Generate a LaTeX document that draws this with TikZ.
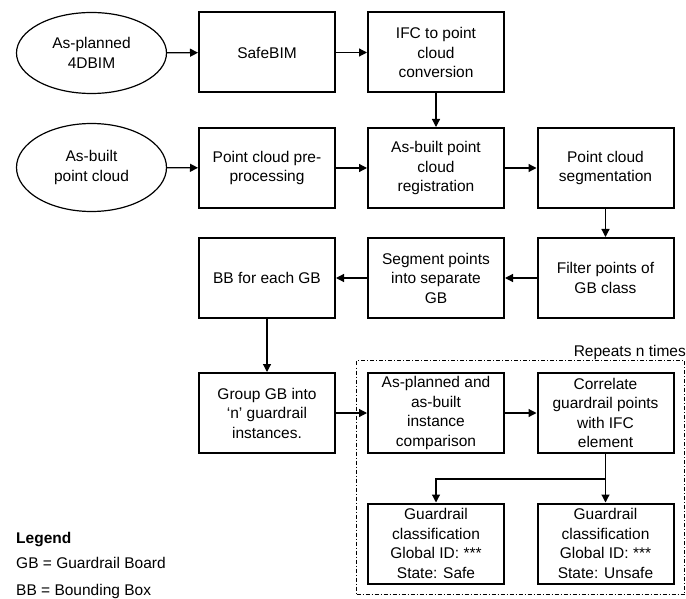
\documentclass[tikz,border=0pt]{standalone}
\usepackage{fontspec}
\setmainfont{Liberation Sans}
\usetikzlibrary{arrows.meta,shapes.geometric}
\begin{document}
\begin{tikzpicture}[x=1pt,y=-1pt,
  txt/.style={font=\fontsize{15.5pt}{19.5pt}\selectfont, align=center},
  stepbox/.style={txt, draw, line width=2pt, rectangle, minimum width=136pt, minimum height=80pt, inner sep=2pt},
  inbox/.style={txt, draw, line width=1.2pt, ellipse, minimum width=150pt, inner sep=0pt},
  arr/.style={line width=1.2pt, -{Triangle[length=8pt,width=8pt]}},
  repbox/.style={draw, line width=1pt, dash pattern=on 4pt off 2pt on 1pt off 2pt, minimum width=328pt, minimum height=234pt, inner sep=0pt},
  legtxt/.style={font=\fontsize{15.5pt}{19.5pt}\selectfont, anchor=base west, inner sep=0pt}
]
\useasboundingbox (0,0) rectangle (686,599);

% inputs
\node[inbox, minimum height=81pt] (plan) at (91.5,53) {As-planned\\4DBIM};
\node[inbox, minimum height=88pt] (built) at (91.5,167.5) {As-built\\point cloud};

% row 1
\node[stepbox] (safe) at (267,52.5) {SafeBIM};
\node[stepbox] (ifc) at (436,52.5) {IFC to point\\cloud\\conversion};

% row 2
\node[stepbox] (pre) at (267,168) {Point cloud pre-\\processing};
\node[stepbox] (reg) at (436,168) {As-built point\\cloud\\registration};
\node[stepbox] (seg) at (605.5,168) {Point cloud\\segmentation};

% row 3
\node[stepbox] (bb) at (267,278) {BB for each GB};
\node[stepbox] (sep) at (436,278) {Segment points\\into separate\\GB};
\node[stepbox] (filt) at (605.5,278) {Filter points of\\GB class};

% repeat region
\node[repbox] (rep) at (520.5,477.5) {};
\node[txt, anchor=base east, inner sep=0pt] (reptxt) at (686,356) {Repeats n times};

% row 4
\node[stepbox] (grp) at (267,413) {Group GB into\\‘n’ guardrail\\instances.};
\node[stepbox] (cmp) at (436,413) {As-planned and\\as-built\\instance\\comparison};
\node[stepbox] (cor) at (605.5,413) {Correlate\\guardrail points\\with IFC\\element};

% row 5
\node[stepbox] (safecl) at (436,543.5) {Guardrail\\classification\\Global ID: ***\\State: Safe};
\node[stepbox] (unsafecl) at (605.5,543.5) {Guardrail\\classification\\Global ID: ***\\State: Unsafe};

% legend
\node[legtxt, font=\fontsize{15.5pt}{19.5pt}\selectfont\bfseries] (leg) at (16,543) {Legend};
\node[legtxt] (leg1) at (16,568) {GB = Guardrail Board};
\node[legtxt] (leg2) at (16,595) {BB = Bounding Box};

% connectors
\draw[arr] (plan) -- (safe);
\draw[arr] (safe) -- (ifc);
\draw[arr] (ifc) -- (reg);
\draw[arr] (built) -- (pre);
\draw[arr] (pre) -- (reg);
\draw[arr] (reg) -- (seg);
\draw[arr] (seg) -- (filt);
\draw[arr] (filt) -- (sep);
\draw[arr] (sep) -- (bb);
\draw[arr] (bb) -- (grp);
\draw[arr] (grp) -- (cmp);
\draw[arr] (cmp) -- (cor);
\draw[arr] (cor) -- (unsafecl);
\coordinate (br) at (605.5,479);
\draw[arr] (br) -| (safecl.north);
\end{tikzpicture}
\end{document}
